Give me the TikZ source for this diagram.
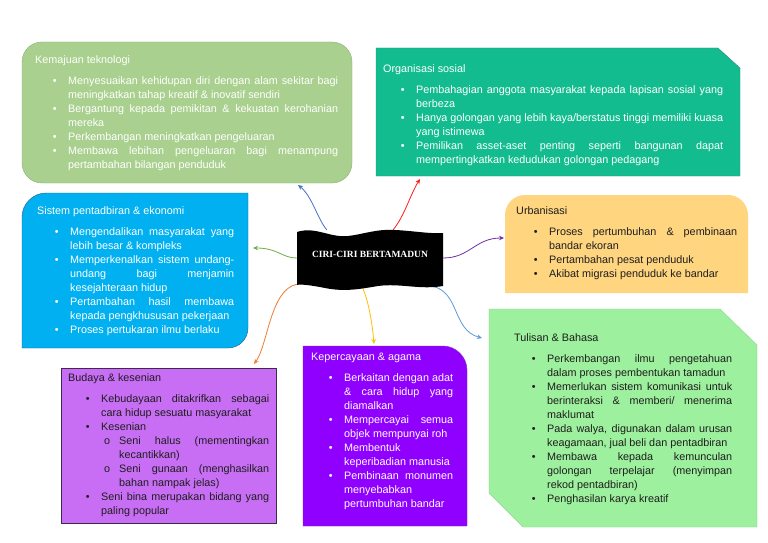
\documentclass[tikz,border=0pt]{standalone}
\usepackage{fontspec}
\setmainfont{Liberation Sans}
\newfontfamily\judulfont{Liberation Serif}
\usepackage{xcolor}
\usetikzlibrary{arrows.meta}

\definecolor{hijaumuda}{HTML}{A9D08E}
\definecolor{hijaumudagaris}{HTML}{8DB276}
\definecolor{hijaulaut}{HTML}{12BC8E}
\definecolor{hijaulautgaris}{HTML}{3B8C82}
\definecolor{birulangit}{HTML}{00B0F0}
\definecolor{birulangitgaris}{HTML}{1F5E8C}
\definecolor{jingga}{HTML}{FFD580}
\definecolor{hijaupucat}{HTML}{9DF09D}
\definecolor{hijaupucatgaris}{HTML}{94CF94}
\definecolor{ungu}{HTML}{8F00FF}
\definecolor{ungugaris}{HTML}{7E2BD6}
\definecolor{merahjambu}{HTML}{C86EF5}
\definecolor{merahjambugaris}{HTML}{3E2A4E}
\definecolor{teksgelap}{HTML}{1E1E1E}
\definecolor{garisbiru}{HTML}{4472C4}
\definecolor{garismerah}{HTML}{FF1A1A}
\definecolor{garishijau}{HTML}{70AD47}
\definecolor{garisungu}{HTML}{7030A0}
\definecolor{garisbirumuda}{HTML}{5B9BD5}
\definecolor{gariskuning}{HTML}{FFC000}
\definecolor{garisoren}{HTML}{ED7D31}

\newenvironment{poin}{\begin{list}{\textbullet}{%
  \setlength{\leftmargin}{33pt}\setlength{\labelwidth}{10pt}%
  \setlength{\labelsep}{11.5pt}\setlength{\itemindent}{0pt}%
  \setlength{\itemsep}{0pt}\setlength{\parsep}{0pt}%
  \setlength{\topsep}{7pt}\setlength{\partopsep}{0pt}}}{\end{list}}
\newenvironment{subpoin}{\begin{list}{o}{%
  \setlength{\leftmargin}{18pt}\setlength{\labelwidth}{8pt}%
  \setlength{\labelsep}{9pt}\setlength{\itemindent}{0pt}%
  \setlength{\itemsep}{0pt}\setlength{\parsep}{0pt}%
  \setlength{\topsep}{0pt}\setlength{\partopsep}{0pt}}}{\end{list}}

\hyphenpenalty=10000
\hbadness=10000

\begin{document}
\begin{tikzpicture}[x=1pt, y=-1pt,
  teks/.style = {anchor=base west, inner sep=0pt, text width=#1,
    align=justify, font=\fontsize{10.8}{14}\selectfont},
  konektor/.style = {-{Stealth[length=5pt, width=4.5pt]}, line width=0.8pt},
  judul/.style = {text=white, inner sep=0pt, minimum width=146pt,
    minimum height=56pt, text height=7pt, text depth=8pt,
    font=\judulfont\bfseries\fontsize{9.5}{10}\selectfont}
]
\useasboundingbox (0,0) rectangle (768,543);
\fill[white] (0,0) rectangle (768,543);

% kotak-kotak
\draw[fill=hijaumuda, draw=hijaumudagaris, rounded corners=20pt] (22,42) rectangle (352,183);
\draw[fill=hijaulaut, draw=hijaulautgaris] (376,48) -- (718,48) -- (740,68) -- (740,176) -- (376,176) -- cycle;
\draw[fill=birulangit, draw=birulangitgaris] (248,193) -- (46,193) .. controls (33,193) and (22,204) .. (22,217)
  -- (22,348) -- (228,348) .. controls (239,348) and (248,339) .. (248,328) -- cycle;
\fill[jingga] (505,293) -- (505,215) .. controls (505,204) and (514,195) .. (525,195) -- (728,195)
  .. controls (739,195) and (748,204) .. (748,215) -- (748,293) -- cycle;
\draw[fill=hijaupucat, draw=hijaupucatgaris] (489,309) -- (720,309) -- (757,345) -- (757,527) -- (523,527) -- (489,493) -- cycle;
\draw[fill=ungu, draw=ungugaris] (303,346) -- (443,346) .. controls (456,346) and (467,357) .. (467,370) -- (467,526) -- (303,526) -- cycle;
\draw[fill=merahjambu, draw=merahjambugaris] (61,368) rectangle (276,523);

\node[teks=303pt, text=white] (kemajuan) at (35,63.5) {Kemajuan teknologi
  \begin{poin}
  \item Menyesuaikan kehidupan diri dengan alam sekitar bagi\linebreak meningkatkan tahap kreatif \& inovatif sendiri
  \item Bergantung kepada pemikitan \& kekuatan kerohanian\linebreak mereka
  \item Perkembangan meningkatkan pengeluaran
  \item Membawa lebihan pengeluaran bagi menampung\linebreak pertambahan bilangan penduduk
  \end{poin}};
\node[teks=340pt, text=white] (organisasi) at (383,72.5) {Organisasi sosial
  \begin{poin}
  \item Pembahagian anggota masyarakat kepada lapisan sosial yang\linebreak berbeza
  \item Hanya golongan yang lebih kaya/berstatus tinggi memiliki kuasa\linebreak yang istimewa
  \item Pemilikan asset-aset penting seperti bangunan dapat\linebreak mempertingkatkan kedudukan golongan pedagang
  \end{poin}};
\node[teks=197pt, text=white] (pentadbiran) at (37,214.5) {Sistem pentadbiran \& ekonomi
  \begin{poin}
  \item Mengendalikan masyarakat yang\linebreak lebih besar \& kompleks
  \item Memperkenalkan sistem undang-\linebreak undang bagi menjamin\linebreak kesejahteraan hidup
  \item Pertambahan hasil membawa\linebreak kepada pengkhususan pekerjaan
  \item Proses pertukaran ilmu berlaku
  \end{poin}};
\node[teks=221pt, text=teksgelap] (urbanisasi) at (516,214.5) {Urbanisasi
  \begin{poin}
  \item Proses pertumbuhan \& pembinaan\linebreak bandar ekoran
  \item Pertambahan pesat penduduk
  \item Akibat migrasi penduduk ke bandar
  \end{poin}};
\node[teks=218pt, text=teksgelap] (tulisan) at (514,341.5) {Tulisan \& Bahasa
  \begin{poin}
  \item Perkembangan ilmu pengetahuan\linebreak dalam proses pembentukan tamadun
  \item Memerlukan sistem komunikasi untuk\linebreak berinteraksi \& memberi/ menerima\linebreak maklumat
  \item Pada walya, digunakan dalam urusan\linebreak keagamaan, jual beli dan pentadbiran
  \item Membawa kepada kemunculan\linebreak golongan terpelajar (menyimpan\linebreak rekod pentadbiran)
  \item Penghasilan karya kreatif
  \end{poin}};
\node[teks=142pt, text=white] (kepercayaan) at (311,360.5) {Kepercayaan \& agama
  \begin{poin}
  \item Berkaitan dengan adat\linebreak \& cara hidup yang\linebreak diamalkan
  \item Mempercayai semua\linebreak objek mempunyai roh
  \item Membentuk\newline keperibadian manusia
  \item Pembinaan monumen\linebreak menyebabkan\newline pertumbuhan bandar
  \end{poin}};
\node[teks=201pt, text=teksgelap] (budaya) at (68,381.5) {Budaya \& kesenian
  \begin{poin}
  \item Kebudayaan ditakrifkan sebagai\linebreak cara hidup sesuatu masyarakat
  \item Kesenian
    \begin{subpoin}
    \item Seni halus (mementingkan\linebreak kecantikkan)
    \item Seni gunaan (menghasilkan\linebreak bahan nampak jelas)
    \end{subpoin}
  \item Seni bina merupakan bidang yang\linebreak paling popular
  \end{poin}};

% tengah
\node[judul] (pusat) at (370,258) {CIRI-CIRI BERTAMADUN};
\coordinate (ke-kemajuan) at (298,185);
\coordinate (ke-organisasi) at (420,179);
\coordinate (ke-pentadbiran) at (253,248);
\coordinate (ke-urbanisasi) at (504,238);
\coordinate (ke-tulisan) at (482,338);
\coordinate (ke-kepercayaan) at (374,344);
\coordinate (ke-budaya) at (254,364);

\draw[konektor, garisbiru] ([xshift=30pt]pusat.north west) .. controls (318,220) and (312,196) .. (ke-kemajuan);
\draw[konektor, garismerah] ([xshift=-50pt]pusat.north east) .. controls (405,215) and (410,195) .. (ke-organisasi);
\draw[konektor, garishijau] (pusat.west) .. controls (282,258) and (278,248) .. (ke-pentadbiran);
\draw[konektor, garisungu] (pusat.east) .. controls (470,258) and (475,238) .. (ke-urbanisasi);
\draw[konektor, garisbirumuda] ([xshift=-11pt]pusat.south east) .. controls (460,292) and (452,330) .. (ke-tulisan);
\draw[konektor, gariskuning] ([xshift=-8pt]pusat.south) .. controls (368,300) and (372,320) .. (ke-kepercayaan);
\draw[konektor, garisoren] ([yshift=2pt]pusat.south west) .. controls (270,290) and (268,345) .. (ke-budaya);

\fill[black] (297,232) .. controls (315,226) and (330,238) .. (348,236)
  .. controls (365,234) and (375,229) .. (395,230) .. controls (415,231) and (430,234) .. (443,233)
  -- (443,286) .. controls (420,290) and (400,283) .. (378,286)
  .. controls (360,289) and (345,292) .. (325,288) .. controls (310,285) and (300,284) .. (297,285) -- cycle;
\node[judul] at (pusat) {CIRI-CIRI BERTAMADUN};
\end{tikzpicture}
\end{document}
